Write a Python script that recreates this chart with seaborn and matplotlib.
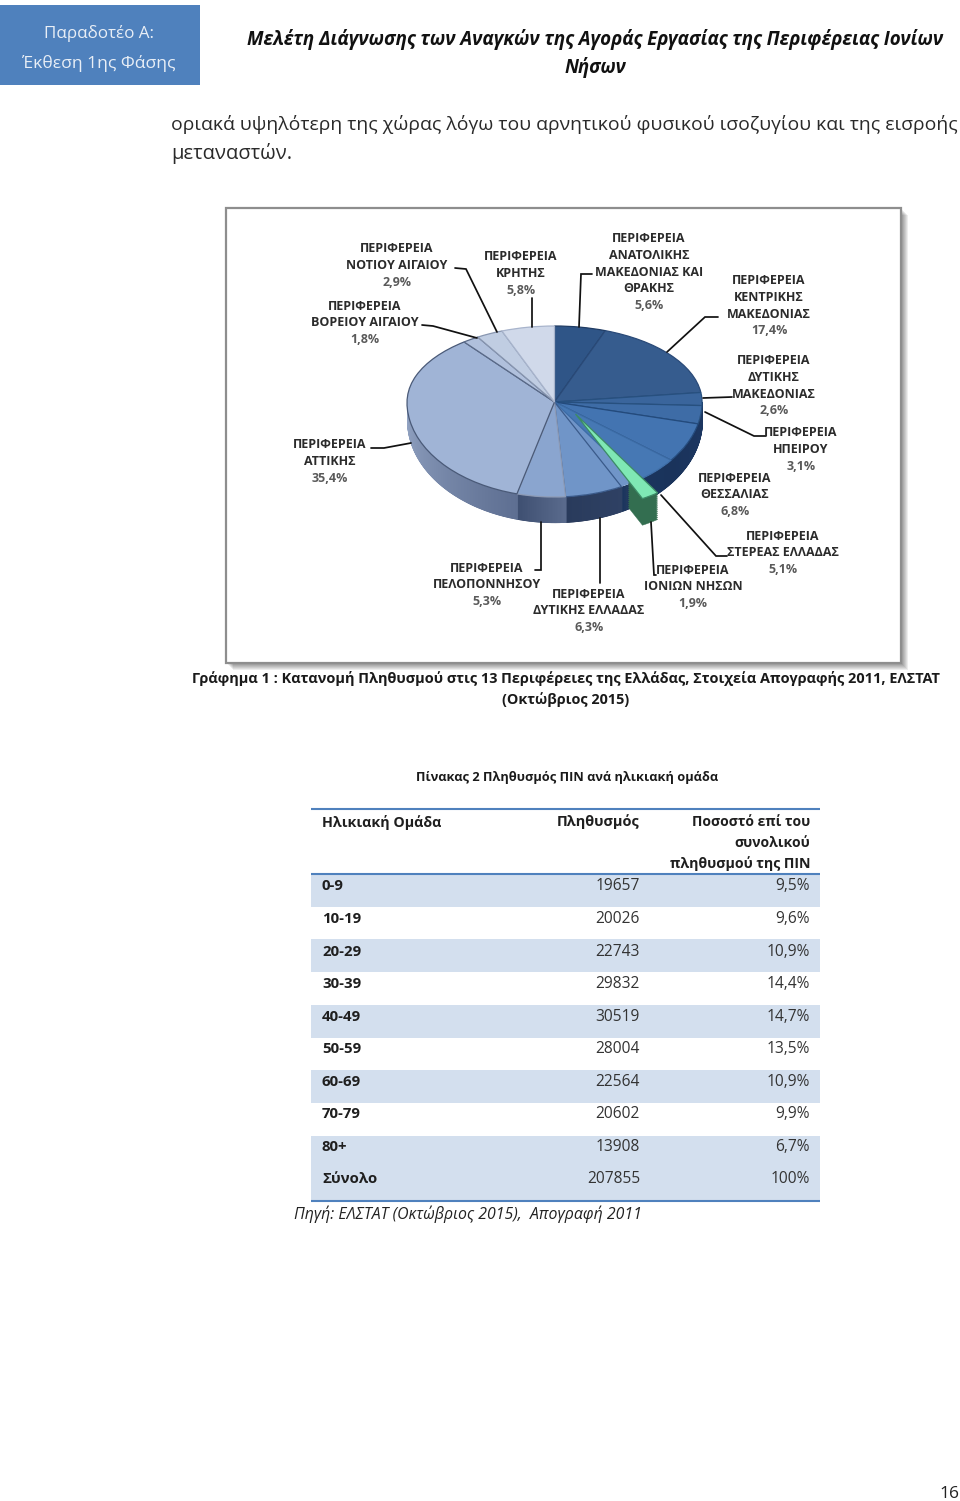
import numpy as np
import matplotlib
matplotlib.use("Agg")
import matplotlib.pyplot as plt
from matplotlib.patches import Rectangle, Wedge
import seaborn as sns

# ---------- data ----------
regions = [
    ["ΠΕΡΙΦΕΡΕΙΑ", "ΑΝΑΤΟΛΙΚΗΣ", "ΜΑΚΕΔΟΝΙΑΣ ΚΑΙ", "ΘΡΑΚΗΣ"],
    ["ΠΕΡΙΦΕΡΕΙΑ", "ΚΕΝΤΡΙΚΗΣ", "ΜΑΚΕΔΟΝΙΑΣ"],
    ["ΠΕΡΙΦΕΡΕΙΑ", "ΔΥΤΙΚΗΣ", "ΜΑΚΕΔΟΝΙΑΣ"],
    ["ΠΕΡΙΦΕΡΕΙΑ", "ΗΠΕΙΡΟΥ"],
    ["ΠΕΡΙΦΕΡΕΙΑ", "ΘΕΣΣΑΛΙΑΣ"],
    ["ΠΕΡΙΦΕΡΕΙΑ", "ΣΤΕΡΕΑΣ ΕΛΛΑΔΑΣ"],
    ["ΠΕΡΙΦΕΡΕΙΑ", "ΙΟΝΙΩΝ ΝΗΣΩΝ"],
    ["ΠΕΡΙΦΕΡΕΙΑ", "ΔΥΤΙΚΗΣ ΕΛΛΑΔΑΣ"],
    ["ΠΕΡΙΦΕΡΕΙΑ", "ΠΕΛΟΠΟΝΝΗΣΟΥ"],
    ["ΠΕΡΙΦΕΡΕΙΑ", "ΑΤΤΙΚΗΣ"],
    ["ΠΕΡΙΦΕΡΕΙΑ", "ΒΟΡΕΙΟΥ ΑΙΓΑΙΟΥ"],
    ["ΠΕΡΙΦΕΡΕΙΑ", "ΝΟΤΙΟΥ ΑΙΓΑΙΟΥ"],
    ["ΠΕΡΙΦΕΡΕΙΑ", "ΚΡΗΤΗΣ"],
]
shares = [5.6, 17.4, 2.6, 3.1, 6.8, 5.1, 1.9, 6.3, 5.3, 35.4, 1.8, 2.9, 5.8]

age_groups = ["0-9", "10-19", "20-29", "30-39", "40-49", "50-59", "60-69", "70-79", "80+", "Σύνολο"]
population = [19657, 20026, 22743, 29832, 30519, 28004, 22564, 20602, 13908, 207855]
pop_pct = ["9,5%", "9,6%", "10,9%", "14,4%", "14,7%", "13,5%", "10,9%", "9,9%", "6,7%", "100%"]
row_shaded = [1, 0, 1, 0, 1, 0, 1, 0, 1, 1]

# ---------- styles / layout ----------
face_colors = ["#2F5587", "#365C8E", "#3A659C", "#3E6CA6", "#4374B1", "#4678B4", "#7FE8B4",
               "#7095C8", "#8AA5CF", "#A0B4D6", "#B0C0DC", "#C0CDE2", "#D0D9EA"]
edge_colors = ["#1F3B63", "#2A4A78", "#27507F", "#27507F", "#234A7C", "#3B6BA5", "#3C8A66",
               "#3A5A8A", "#8C9AB5", "#4A5A78", "#5A6A88", "#8896B0", "#A8B4CC"]
wall_left = {1: "#1C3660", 2: "#1C3660", 3: "#1C3660", 4: "#1A335B", 5: "#1B355D",
             6: "#1B355D", 7: "#293B5C", 8: "#3F5072", 9: "#93A4C3"}
wall_right = {1: "#1C3660", 2: "#1C3660", 3: "#1C3660", 4: "#1C3660", 5: "#1A335B",
              6: "#2F4164", 7: "#2F4164", 8: "#5A6B8D", 9: "#5E6F92"}
GREEN = 6
GREEN_WALL = "#336E50"

label_pos = [(649, 238), (769, 280), (774, 360), (801, 432), (735, 477), (783, 535), (693, 569),
             (589, 593), (487, 567), (330, 444), (365, 305), (397, 248), (521, 256)]
leaders = [
    [(592, 274), (581, 274), (579, 327)],
    [(718, 317), (705, 317), (667, 352)],
    [(732, 397), (703, 398)],
    [(766, 436), (754, 436), (705, 412)],
    [(727, 556), (716, 556), (661, 495)],
    [(656, 575), (654, 575), (651, 522)],
    [(600, 583), (600, 518)],
    [(535, 570), (541, 570), (541, 522)],
    [(371, 448), (384, 448), (411, 443)],
    [(422, 325), (433, 326), (477, 338)],
    [(455, 268), (466, 269), (497, 332)],
    [(532, 298), (532, 327)],
]

sns.set_theme(style="white")
plt.rcParams["font.family"] = ["Open Sans", "DejaVu Sans"]

W, H = 960, 1501
fig = plt.figure(figsize=(W / 100, H / 100), dpi=100, facecolor="white")


def add_px_axes(x0, y0, x1, y1, z):
    return fig.add_axes([x0 / W, 1 - y1 / H, (x1 - x0) / W, (y1 - y0) / H], zorder=z)


page = add_px_axes(0, 0, W, H, 0)
page.set_xlim(0, W)
page.set_ylim(H, 0)
page.axis("off")

over = add_px_axes(0, 0, W, H, 5)
over.set_xlim(0, W)
over.set_ylim(H, 0)
over.axis("off")
over.patch.set_alpha(0)

renderer = fig.canvas.get_renderer()


def put(x, y, s, ha="left", fit=None, size=10, color="#222222", weight="normal", style="normal"):
    t = over.text(x, y + 1, s, ha=ha, va="center", fontsize=size, color=color, fontweight=weight, fontstyle=style)
    if fit is not None:
        w = t.get_window_extent(renderer).width
        t.set_fontsize(size * fit / w)
    return t


# ---------- page header ----------
page.add_patch(Rectangle((0, 5), 200, 80, fc="#4F81BD", ec="none"))
put(99, 33, "Παραδοτέο Α:", ha="center", fit=110, color="#E8EEF6")
put(99, 62, "Έκθεση 1ης Φάσης", ha="center", fit=153, color="#E8EEF6")
put(595, 39, "Μελέτη Διάγνωσης των Αναγκών της Αγοράς Εργασίας της Περιφέρειας Ιονίων", ha="center",
    fit=698, weight="bold", style="italic", color="#111111")
put(595, 67, "Νήσων", ha="center", fit=62, weight="bold", style="italic", color="#111111")
put(171, 124, "οριακά υψηλότερη της χώρας λόγω του αρνητικού φυσικού ισοζυγίου και της εισροής", fit=784, color="#2A2A2A")
put(171, 153, "μεταναστών.", fit=121, color="#2A2A2A")

# ---------- chart frame with shadow ----------
for i in range(1, 8):
    page.add_patch(Rectangle((226 + i, 208 + i), 675, 455, fc="black", ec="none", alpha=0.07))
page.add_patch(Rectangle((226, 208), 675, 455, fc="white", ec="#8E8E8E", lw=1.6))

# ---------- pie ----------
CX, CY, R = 554.5, 402, 147.5
UP, DOWN = 76, 95
ylo, yhi, xpad = -1.45, 1.0, 1.1
pie_ax = add_px_axes(CX - xpad * R, CY - yhi * UP, CX + xpad * R, CY - ylo * DOWN, 2)
pie_ax.patch.set_alpha(0)


def squash(y):
    y = np.asarray(y, dtype=float)
    return np.where(y > 0, y * UP, y * DOWN)


def unsquash(v):
    v = np.asarray(v, dtype=float)
    return np.where(v > 0, v / UP, v / DOWN)


wedges, _ = pie_ax.pie(shares, colors=face_colors, startangle=90, counterclock=False,
                       wedgeprops={"linewidth": 0.9, "zorder": 3})
for w, ec in zip(wedges, edge_colors):
    w.set_edgecolor(ec)
pie_ax.set_aspect("auto")
pie_ax.set_yscale("function", functions=(squash, unsquash))
pie_ax.set_xlim(-xpad, xpad)
pie_ax.set_ylim(ylo, yhi)
pie_ax.axis("off")

# side wall of the lower half, computed from the shares
bounds = np.cumsum([0] + shares) / sum(shares) * 360.0
for i in range(len(shares)):
    if i not in wall_left:
        continue
    a0, a1 = max(bounds[i], 90.0), min(bounds[i + 1], 270.0)
    if a1 <= a0:
        continue
    n = max(int((a1 - a0) * 2), 2)
    pal = sns.blend_palette([wall_right[i], wall_left[i]], n)
    th = np.radians(np.linspace(a0, a1, n + 1))
    for k in range(n):
        t = np.linspace(th[k], th[k + 1] + 0.004, 4)
        xs, ys = np.sin(t), np.cos(t)
        hs = 0.19 + 0.075 * np.abs(ys)
        pie_ax.fill_between(xs, ys, ys - hs, color=pal[k], lw=0.6, zorder=2)

# exploded slice with its own dark rim; its old place shows the neighbouring colour
gw = wedges[GREEN]
pie_ax.add_patch(Wedge((0, 0), 1.0, gw.theta1 - 0.3, gw.theta2 + 0.3, fc=face_colors[GREEN + 1],
                       ec="none", zorder=2.9))
shift = (21 / R, -12 / DOWN)
gw.set_center(shift)
gw.set_zorder(6)
for k in np.linspace(0.28, 0, 14):
    pie_ax.add_patch(Wedge((shift[0], shift[1] - k), 1.0, gw.theta1, gw.theta2, width=0.21,
                           fc=GREEN_WALL, ec=GREEN_WALL, lw=0.3, zorder=5))

# ---------- leader lines and labels ----------
for seg in leaders:
    xs, ys = zip(*seg)
    over.plot(xs, ys, color="#111111", lw=1.25, solid_joinstyle="miter")

LINE = 16.6
for lines, share, (cx, y0) in zip(regions, shares, label_pos):
    for j, s in enumerate(lines):
        put(cx, y0 + j * LINE, s, ha="center", size=9.0, weight="bold", color="#2B2B2B")
    pct = f"{share:.1f}".replace(".", ",") + "%"
    put(cx, y0 + len(lines) * LINE, pct, ha="center", size=9.0, weight="bold", color="#5A5A5A")

# ---------- captions ----------
CAP = "#1A1A1A"
put(566, 678, "Γράφημα 1 : Κατανομή Πληθυσμού στις 13 Περιφέρειες της Ελλάδας, Στοιχεία Απογραφής 2011, ΕΛΣΤΑΤ",
    ha="center", fit=748, weight="bold", color=CAP)
put(566, 699, "(Οκτώβριος 2015)", ha="center", fit=127, weight="bold", color=CAP)
put(567.5, 777, "Πίνακας 2 Πληθυσμός ΠΙΝ ανά ηλικιακή ομάδα", ha="center", fit=301, weight="bold", color=CAP)

# ---------- table ----------
table_ax = add_px_axes(311, 874, 820, 1201, 1)
cmap = sns.blend_palette(["#FFFFFF", "#D3DFEE"], as_cmap=True)
sns.heatmap(np.array(row_shaded).reshape(-1, 1), ax=table_ax, cmap=cmap, vmin=0, vmax=1,
            cbar=False, xticklabels=False, yticklabels=False)
table_ax.axis("off")

TBL = "#4F81BD"
for y in (809, 874, 1201):
    over.plot([311, 820], [y, y], color=TBL, lw=1.5, solid_capstyle="butt")

HEAD = "#1F1F1F"
put(322, 821, "Ηλικιακή Ομάδα", fit=119, weight="bold", color=HEAD)
put(640, 821, "Πληθυσμός", ha="right", fit=83, weight="bold", color=HEAD)
put(810, 821, "Ποσοστό επί του", ha="right", fit=119, weight="bold", color=HEAD)
put(810, 842, "συνολικού", ha="right", fit=76, weight="bold", color=HEAD)
put(810, 863, "πληθυσμού της ΠΙΝ", ha="right", fit=141, weight="bold", color=HEAD)

ROW0, ROW_H = 885.5, 32.55
for i, (a, p, q) in enumerate(zip(age_groups, population, pop_pct)):
    y = ROW0 + i * ROW_H
    put(322, y, a, size=10.8, weight="bold", color=HEAD)
    put(640, y, str(p), ha="right", size=11.2, color="#333333")
    put(810, y, q, ha="right", size=11.2, color="#333333")

put(294, 1213.5, "Πηγή: ΕΛΣΤΑΤ (Οκτώβριος 2015),  Απογραφή 2011", fit=347, style="italic", color="#222222")
put(959, 1493, "16", ha="right", size=12.5, color="#222222")

fig.savefig("out.png", dpi=100, facecolor="white")
